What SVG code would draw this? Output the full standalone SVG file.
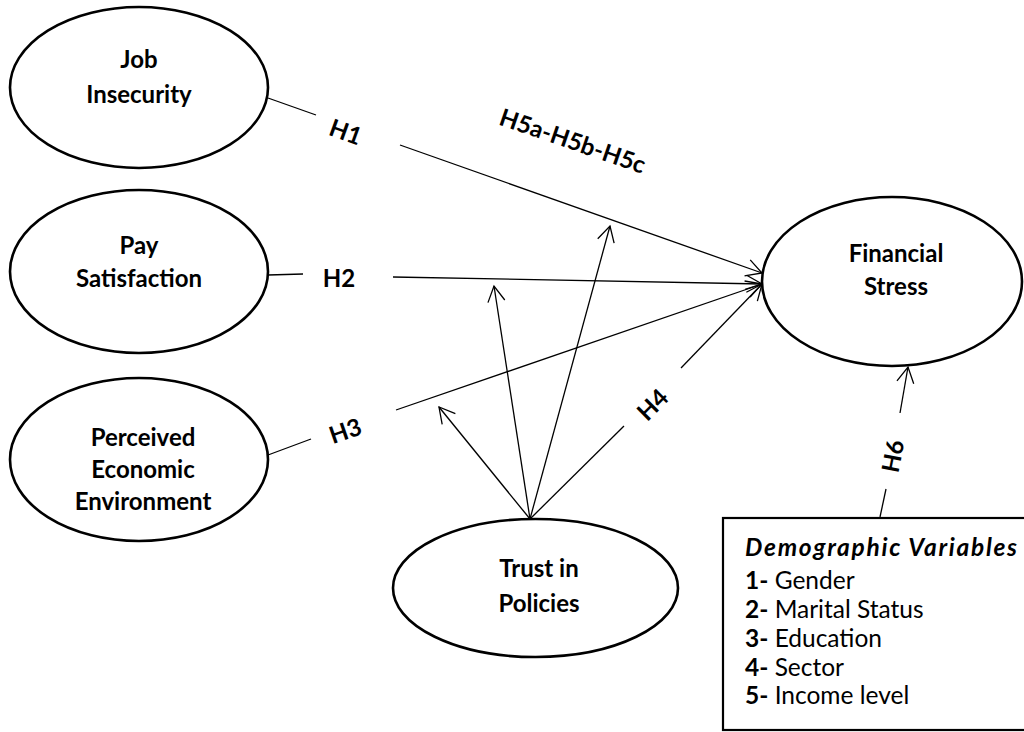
<svg xmlns="http://www.w3.org/2000/svg" width="1024" height="732" viewBox="0 0 1024 732">
<defs>
<marker id="arr" markerUnits="userSpaceOnUse" markerWidth="40" markerHeight="40" viewBox="-20 -20 40 40" refX="0" refY="0" orient="auto">
<path d="M-15.5,-8.5 L0,0 L-15.5,8.5" fill="none" stroke="#000" stroke-width="1.3"/>
</marker>
<style>
.node ellipse{fill:#fff;stroke:#000;stroke-width:2.6}
.nt{font-family:Lato,"Liberation Sans",sans-serif;font-weight:bold;font-size:24px;text-anchor:middle;fill:#000}
.lbl{font-family:Lato,"Liberation Sans",sans-serif;font-weight:bold;font-size:24px;text-anchor:middle;dominant-baseline:central;fill:#000}
#connectors line{stroke:#000;stroke-width:1.3}
.ar{marker-end:url(#arr)}
.bt{font-family:Lato,"Liberation Sans",sans-serif;font-size:24.5px;fill:#000}
</style>
</defs>
<rect width="1024" height="732" fill="#fff"/>
<g id="connectors">
<line x1="268" y1="98" x2="316" y2="115"/>
<line class="ar" x1="400" y1="145" x2="762" y2="273"/>
<line x1="268" y1="275" x2="303" y2="274"/>
<line class="ar" x1="393" y1="277" x2="762" y2="284"/>
<line x1="268" y1="455" x2="311" y2="439"/>
<line class="ar" x1="396" y1="410" x2="762" y2="284"/>
<line class="ar" x1="530" y1="519" x2="494" y2="286"/>
<line class="ar" x1="530" y1="519" x2="610" y2="226"/>
<line class="ar" x1="530" y1="519" x2="439" y2="407"/>
<line x1="530" y1="519" x2="624" y2="426"/>
<line class="ar" x1="681" y1="368" x2="762" y2="284"/>
<line x1="880" y1="517" x2="886" y2="489"/>
<line class="ar" x1="900" y1="413" x2="908" y2="367"/>
<text class="lbl" transform="translate(346,131) rotate(20)">H1</text>
<text class="lbl" transform="translate(573,140) rotate(19)">H5a-H5b-H5c</text>
<text class="lbl" transform="translate(339,277)">H2</text>
<text class="lbl" transform="translate(345,430) rotate(-19)">H3</text>
<text class="lbl" transform="translate(652,404) rotate(-45)">H4</text>
<text class="lbl" transform="translate(892,456) rotate(-79)">H6</text>
</g>
<g id="job" class="node">
<ellipse cx="139" cy="87.5" rx="129" ry="80.5"/>
<text class="nt" x="139" y="68">Job</text>
<text class="nt" x="139" y="103">Insecurity</text>
</g>
<g id="pay" class="node">
<ellipse cx="139" cy="271.5" rx="129" ry="81.5"/>
<text class="nt" x="139" y="254">Pay</text>
<text class="nt" x="139" y="287">Satisfaction</text>
</g>
<g id="perceived" class="node">
<ellipse cx="139" cy="459.5" rx="129" ry="81.5"/>
<text class="nt" x="143" y="446">Perceived</text>
<text class="nt" x="143" y="478">Economic</text>
<text class="nt" x="143" y="510">Environment</text>
</g>
<g id="financial" class="node">
<ellipse cx="892" cy="281.5" rx="130" ry="84.5"/>
<text class="nt" x="896" y="262">Financial</text>
<text class="nt" x="896" y="295">Stress</text>
</g>
<g id="trust" class="node">
<ellipse cx="535.5" cy="588" rx="142.5" ry="69"/>
<text class="nt" x="539" y="577">Trust in</text>
<text class="nt" x="539" y="612">Policies</text>
</g>
<g id="demographics">
<rect x="723" y="518" width="320" height="212" fill="#fff" stroke="#000" stroke-width="2.2"/>
<text class="bt" x="745" y="556" font-size="25px" font-weight="bold" font-style="italic" textLength="272" lengthAdjust="spacing">Demographic Variables</text>
<text class="bt" x="745" y="589"><tspan font-weight="bold">1-</tspan> Gender</text>
<text class="bt" x="745" y="618"><tspan font-weight="bold">2-</tspan> Marital Status</text>
<text class="bt" x="745" y="647"><tspan font-weight="bold">3-</tspan> Education</text>
<text class="bt" x="745" y="676"><tspan font-weight="bold">4-</tspan> Sector</text>
<text class="bt" x="745" y="704"><tspan font-weight="bold">5-</tspan> Income level</text>
</g>
</svg>
